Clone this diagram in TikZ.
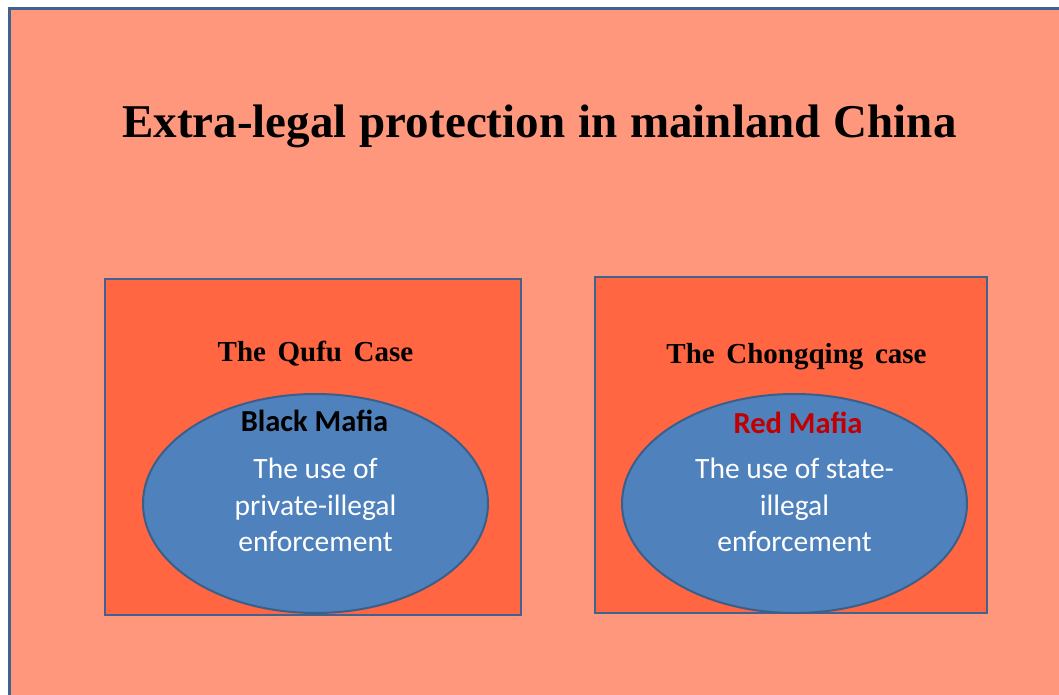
\documentclass[tikz,border=0pt]{standalone}
\usepackage{fontspec}
\setmainfont{Liberation Serif}[WordSpace=1.1]
\newfontfamily\widetimes{Liberation Serif}[WordSpace=1.6]
\newfontfamily\calibri{Carlito}
\usetikzlibrary{shapes.geometric,positioning}
\definecolor{slidebg}{HTML}{FF977D}
\definecolor{boxorange}{HTML}{FF6641}
\definecolor{frameblue}{HTML}{41618F}
\definecolor{ellblue}{HTML}{4F81BD}
\definecolor{ellline}{HTML}{3A5F8B}
\definecolor{mafiared}{HTML}{C00000}
\begin{document}
\begin{tikzpicture}[x=1pt,y=-1pt]
        \tikzstyle{slide}=[draw=frameblue, line width=3pt, fill=slidebg]
        \tikzstyle{casebox}=[draw=frameblue, line width=2.5pt, fill=boxorange, minimum width=416pt, minimum height=336pt, inner sep=0pt]
        \tikzstyle{mafia}=[ellipse, draw=ellline, line width=2pt, fill=ellblue, minimum width=345pt, minimum height=219pt, inner sep=0pt]
        \tikzstyle{casetitle}=[font=\widetimes\fontsize{29}{30}\selectfont\bfseries, inner sep=0pt]
        \tikzstyle{mafianame}=[font=\calibri\fontsize{30.5}{32}\selectfont\bfseries, inner sep=0pt]
        \tikzstyle{mafiatext}=[font=\calibri\fontsize{29.5}{36.5}\selectfont, text=white, align=center, inner sep=0pt]
        \useasboundingbox (0,0) rectangle (1059,695);
        \fill[white] (0,0) rectangle (1059,695);
        \draw[slide] (9,9) rectangle (1070,710);
        \node[font=\fontsize{47}{50}\selectfont\bfseries, inner sep=0pt] (title) at (539.5,126) {Extra-legal protection in mainland China};
        % left case
        \node[casebox] (qufu) at (313,447) {};
        \node[casetitle] (qufutitle) at (315.5,354) {The Qufu Case};
        \node[mafia] (black) at (315.5,503.5) {};
        \node[mafianame] (blackname) at (314.5,421) {Black Mafia};
        \node[mafiatext] (blacktext) at (315.5,505) {The use of\\private-illegal\\enforcement};
        % right case
        \node[casebox, minimum width=392pt] (chongqing) at (791,445) {};
        \node[casetitle] (chongqingtitle) at (796.5,357) {The Chongqing case};
        \node[mafia] (red) at (794.5,503.5) {};
        \node[mafianame, text=mafiared] (redname) at (798,423) {Red Mafia};
        \node[mafiatext] (redtext) at (794.5,505) {The use of state-\\illegal\\enforcement};
\end{tikzpicture}
\end{document}
